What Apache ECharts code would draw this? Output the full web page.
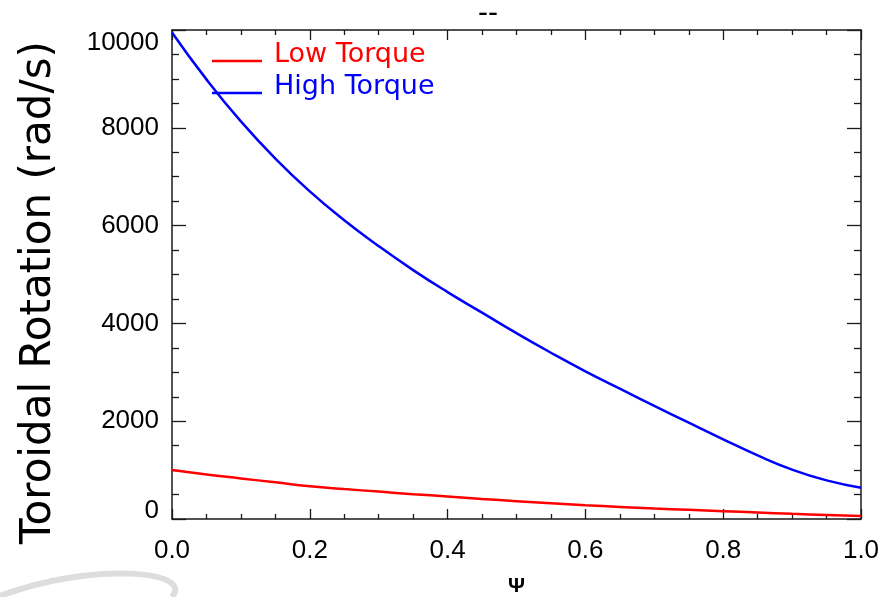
<!DOCTYPE html>
<html>
<head>
<meta charset="utf-8">
<script src="https://cdn.jsdelivr.net/npm/echarts@6/dist/echarts.min.js"></script>
<style>
  html, body { margin: 0; padding: 0; background: #fff; }
  #chart { width: 886px; height: 597px; }
</style>
</head>
<body>
<div id="chart"></div>
<script>
// Normalised flux coordinate
const psi = [0.00, 0.05, 0.10, 0.15, 0.20, 0.25, 0.30, 0.35, 0.40, 0.45, 0.50,
             0.55, 0.60, 0.65, 0.70, 0.75, 0.80, 0.85, 0.90, 0.95, 1.00];
// Toroidal rotation profiles (rad/s)
const lowTorque  = [1000, 910, 830, 750, 671, 612, 560, 508, 460, 410, 365,
                    322, 282, 247, 215, 187, 160, 132, 105, 82, 60];
const highTorque = [9950, 8990, 8130, 7370, 6700, 6110, 5580, 5090, 4640, 4220, 3800,
                    3400, 3020, 2665, 2315, 1970, 1630, 1300, 1010, 790, 640];
const seriesNames = ['Low Torque', 'High Torque'];
const xTicks = [0.0, 0.2, 0.4, 0.6, 0.8, 1.0];
const yTicks = [0, 2000, 4000, 6000, 8000, 10000];

const FONT = '"Liberation Sans", Arial, sans-serif';
const WIDE_FONT = '"DejaVu Sans", sans-serif';
const AXIS_COLOR = '#1a1a1a';

// Legend key: a short line drawn below the text centre
const LEGEND_ICON = 'path://M0,0L50,0L50,0.001L0,0.001Z M0,13L50,13L50,15.5L0,15.5Z';

const pairs = (ys) => psi.map((x, i) => [x, ys[i]]);

function xAxisCfg(pos, showLabels) {
  return {
    type: 'value', position: pos,
    min: xTicks[0], max: xTicks[xTicks.length - 1], interval: 0.2,
    axisLine: { show: true, onZero: false, lineStyle: { color: AXIS_COLOR, width: 1.5 } },
    axisTick: { show: true, inside: true, length: 10, lineStyle: { color: AXIS_COLOR, width: 1.3 } },
    minorTick: { show: true, splitNumber: 4, length: 5, lineStyle: { color: AXIS_COLOR, width: 1.3 } },
    splitLine: { show: false },
    axisLabel: {
      show: showLabels, margin: 19, color: '#000', fontSize: 26, fontFamily: FONT,
      formatter: (v) => v.toFixed(1)
    }
  };
}

function yAxisCfg(pos, showLabels) {
  return {
    type: 'value', position: pos,
    min: yTicks[0], max: yTicks[yTicks.length - 1], interval: 2000,
    axisLine: { show: true, onZero: false, lineStyle: { color: AXIS_COLOR, width: 1.5 } },
    axisTick: { show: true, inside: true, length: 14, lineStyle: { color: AXIS_COLOR, width: 1.3 } },
    minorTick: { show: true, splitNumber: 4, length: 7, lineStyle: { color: AXIS_COLOR, width: 1.3 } },
    splitLine: { show: false },
    axisLabel: {
      show: showLabels, margin: 13, color: '#000', fontSize: 26, fontFamily: FONT,
      // the zero label sits a little above the bottom corner
      formatter: (v) => (v === 0 ? '{zero|0}' : String(v)),
      rich: { zero: { fontSize: 26, fontFamily: FONT, color: '#000', padding: [0, 0, 16, 0] } },
      verticalAlignMinLabel: 'middle', verticalAlignMaxLabel: 'top'
    }
  };
}

const chart = echarts.init(document.getElementById('chart'), null, { renderer: 'canvas' });

const xBottom = xAxisCfg('bottom', true);
Object.assign(xBottom, {
  name: 'Ψ', nameLocation: 'middle', nameGap: 57,
  nameTextStyle: { color: '#000', fontSize: 21, fontWeight: 'bold', fontFamily: FONT }
});

const yLeft = yAxisCfg('left', true);
Object.assign(yLeft, {
  name: 'Toroidal Rotation (rad/s)', nameLocation: 'middle', nameGap: 112,
  nameTextStyle: {
    color: '#000', fontSize: 42, fontFamily: WIDE_FONT,
    padding: [0, 36, 0, 0]
  }
});

chart.setOption({
  backgroundColor: '#fff',
  animation: false,
  title: {
    text: '--', left: 473, top: -6,
    textStyle: { color: '#000', fontSize: 30, fontWeight: 'normal', fontFamily: FONT }
  },
  grid: { left: 172, right: 25, top: 30, bottom: 78, outerBoundsMode: 'none', containLabel: false },
  legend: {
    orient: 'vertical', left: 207, top: 36,
    itemWidth: 50, itemHeight: 15.5, itemGap: 5,
    icon: LEGEND_ICON,
    textStyle: { fontSize: 27, fontFamily: WIDE_FONT, padding: [0, 0, 0, 7] },
    data: [
      { name: seriesNames[0], textStyle: { color: '#ff0000' } },
      { name: seriesNames[1], textStyle: { color: '#0000ff' } }
    ]
  },
  xAxis: [xBottom, xAxisCfg('top', false)],
  yAxis: [yLeft, yAxisCfg('right', false)],
  graphic: [{
    type: 'bezierCurve', silent: true, z: -1,
    shape: { x1: 0, y1: 596, cpx1: 90, cpy1: 562, cpx2: 195, cpy2: 570, x2: 172, y2: 597 },
    style: { fill: null, stroke: '#dddddd', lineWidth: 6 }
  }],
  series: [
    {
      name: seriesNames[0], type: 'line', smooth: true, showSymbol: false,
      data: pairs(lowTorque), xAxisIndex: 0, yAxisIndex: 0,
      lineStyle: { color: '#ff0000', width: 2.5 }, itemStyle: { color: '#ff0000' }
    },
    {
      name: seriesNames[1], type: 'line', smooth: true, showSymbol: false,
      data: pairs(highTorque), xAxisIndex: 0, yAxisIndex: 0,
      lineStyle: { color: '#0000ff', width: 2.5 }, itemStyle: { color: '#0000ff' }
    }
  ]
});
</script>
</body>
</html>
